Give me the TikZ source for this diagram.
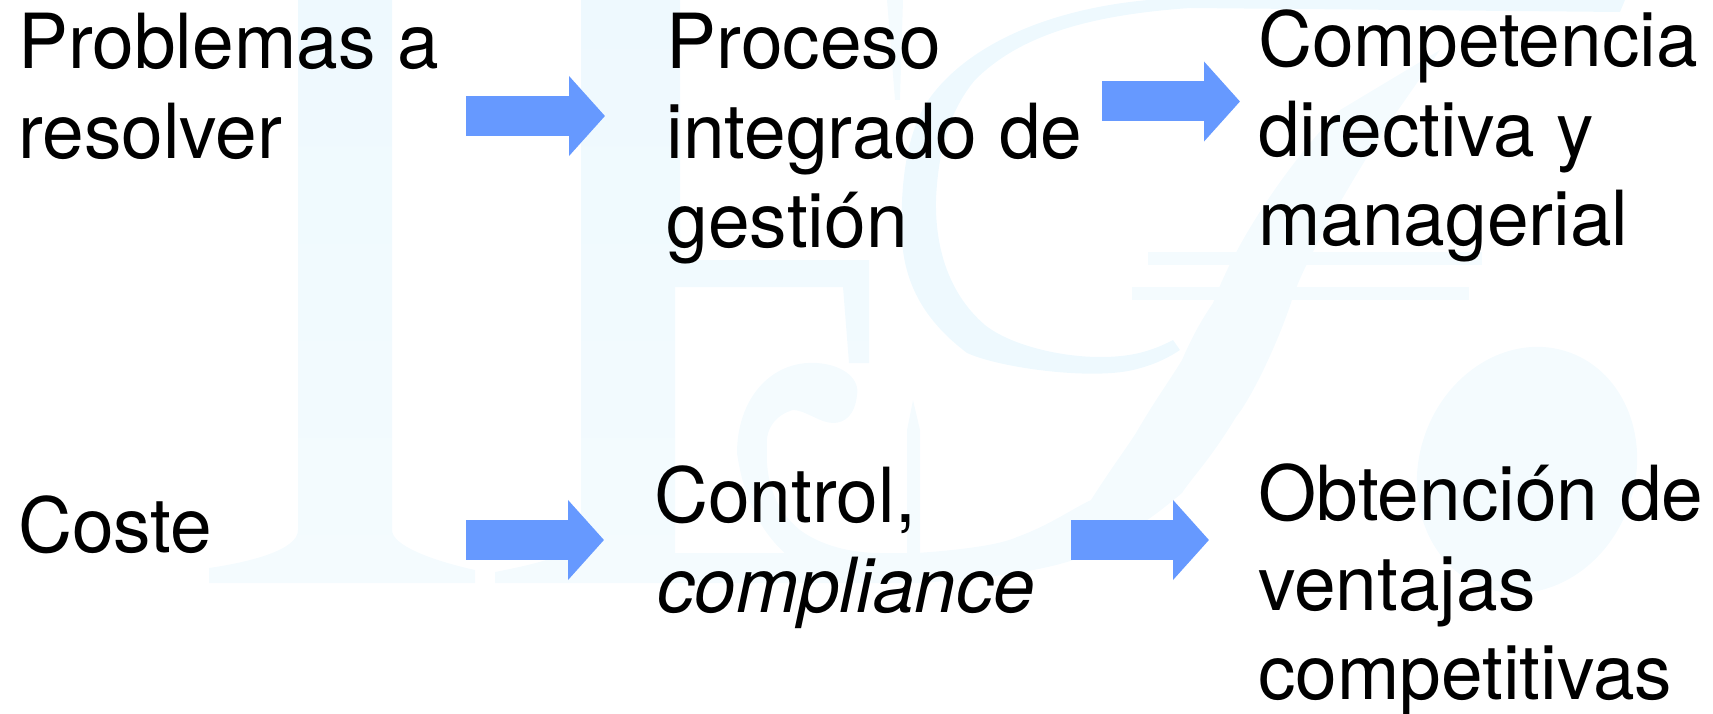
\documentclass[tikz,border=0pt]{standalone}
\usepackage{fontspec}
\setmainfont[FakeStretch=0.985]{TeX Gyre Heros}
\usetikzlibrary{arrows.meta}
\definecolor{palido}{HTML}{EEF9FE}
\definecolor{tenue}{HTML}{F4FBFE}
\definecolor{azulflecha}{HTML}{6699FF}
\tikzset{
  texto/.style={anchor=north west,inner sep=0pt,align=left,text width=#1,font=\fontsize{76}{89.5}\selectfont,execute at begin node={\spaceskip=22pt\relax}},
  flecha/.style={line width=40pt,azulflecha,-{Triangle[length=36pt,width=78pt]}},
  marca/.style={top color=palido,bottom color=tenue,draw=none}
}
\begin{document}
\begin{tikzpicture}[x=1pt,y=-1pt]
\useasboundingbox (0,0) rectangle (1713,714);

% letter I
\path[marca] (298,0) -- (298,530) .. controls (298,550) and (250,562) .. (209,568) -- (209,583) -- (475,583) -- (475,570) .. controls (430,560) and (392,545) .. (392,530) -- (392,0) -- cycle;
% letter E
\path[marca] (581,0) -- (581,535) .. controls (581,555) and (530,565) .. (495,572) -- (495,583) -- (917,583) -- (917,553) -- (675,553) -- (675,287) -- (843,287) -- (849,363) -- (869,363) -- (869,260) -- (680,260) -- (680,0) -- cycle;
\fill[tenue] (817,363) .. controls (845,365) and (860,380) .. (857,395) .. controls (855,415) and (845,423) .. (833,423) .. controls (820,423) and (805,410) .. (793,410) .. controls (775,415) and (765,430) .. (767,447) .. controls (765,480) and (775,510) .. (800,530) .. controls (820,545) and (850,553) .. (880,553) -- (880,565) -- (800,565) .. controls (770,545) and (745,510) .. (737,453) .. controls (737,400) and (770,360) .. (817,363) -- cycle;
\fill[tenue] (907,430) -- (913,400) -- (920,430) -- (920,555) -- (907,555) -- cycle;
% letter G
\fill[palido] (1148,0) .. controls (1040,10) and (960,50) .. (925,105) .. controls (905,140) and (900,190) .. (902,240) .. controls (905,290) and (930,325) .. (967,353) .. controls (1000,368) and (1090,380) .. (1133,370) .. controls (1150,366) and (1165,360) .. (1180,350) -- (1173,340) .. controls (1150,352) and (1130,357) .. (1100,357) .. controls (1060,357) and (1010,345) .. (985,325) .. controls (950,295) and (935,250) .. (936,200) .. controls (938,150) and (950,110) .. (975,80) .. controls (1020,35) and (1090,15) .. (1190,8) -- (1620,12) -- (1625,0) -- cycle;
\fill[tenue] (887,0) -- (903,0) -- (900,100) -- (895,100) -- cycle;
% tail of the G
\fill[tenue] (1440,50) -- (1382,133) .. controls (1340,200) and (1300,270) .. (1291,303) .. controls (1275,350) and (1250,400) .. (1236,417) .. controls (1210,460) and (1190,480) .. (1182,493) .. controls (1150,520) and (1120,540) .. (1091,553) .. controls (1060,568) and (1000,578) .. (917,583) -- (917,553) .. controls (960,550) and (1000,545) .. (1017,537) .. controls (1050,525) and (1070,510) .. (1091,500) .. controls (1110,470) and (1125,450) .. (1136,433) .. controls (1155,400) and (1170,380) .. (1182,360) .. controls (1195,330) and (1205,315) .. (1213,303) .. controls (1240,230) and (1300,150) .. (1340,110) -- cycle;
% bars
\fill[tenue] (1148,252) rectangle (1482,265);
\fill[tenue] (1132,287) rectangle (1469,300);
% ball
\fill[tenue] (1527,470) ellipse[x radius=108,y radius=125,rotate=-20];

\node[texto=430pt] (problemas) at (18,13) {Problemas a\\resolver};
\node[texto=424pt] (proceso) at (666.5,13) {Proceso\\integrado de\\gestión};
\node[texto=452pt] (competencia) at (1258,10) {Competencia\\directiva y\\managerial};
\node[texto=220pt] (coste) at (18,496) {Coste};
\node[texto=390pt] (control) at (654,466) {Control,\\\hspace*{3pt}\textit{compliance}};
\node[texto=452pt] (obtencion) at (1258,464) {Obtención de\\ventajas\\competitivas};

\draw[flecha] ([shift={(18,103)}]problemas.north east) -- ([shift={(-61.5,103)}]proceso.north west);
\draw[flecha] ([shift={(11.5,88.5)}]proceso.north east) -- ([shift={(-18,91.5)}]competencia.north west);
\draw[flecha] ([shift={(228,44)}]coste.north east) -- ([shift={(-50,74)}]control.north west);
\draw[flecha] ([shift={(27,74)}]control.north east) -- ([shift={(-49,76)}]obtencion.north west);
\end{tikzpicture}
\end{document}
